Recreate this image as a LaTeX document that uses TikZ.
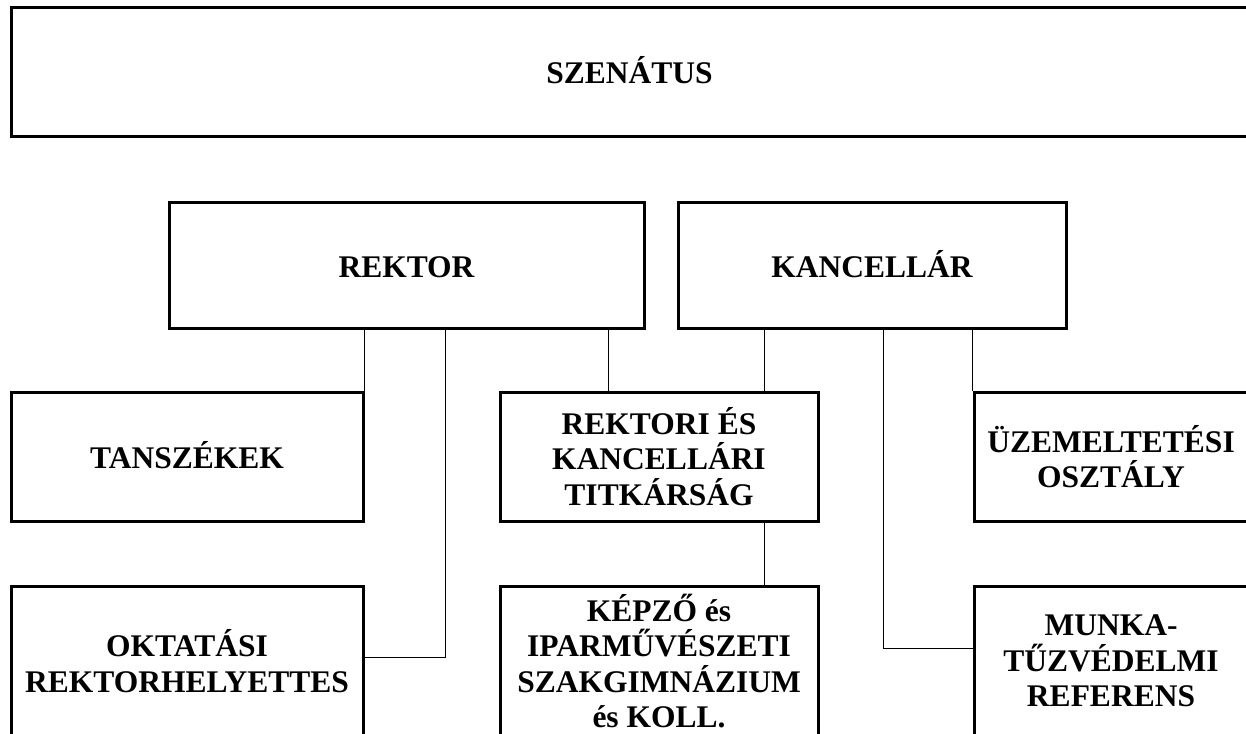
\documentclass[tikz,border=0pt]{standalone}
\usepackage{fontspec}
\setmainfont{Liberation Serif}
\usepackage{tikz}

\tikzset{
  orgbox/.style={draw, line width=3pt, inner sep=0pt, align=center,
    font=\fontsize{31.5}{35.5}\selectfont\bfseries},
  oneline/.style={text height=24pt, text depth=0pt},
  link/.style={line width=1pt}
}

\begin{document}
\begin{tikzpicture}[x=1pt, y=-1pt]
    \useasboundingbox (0,0) rectangle (1246,733);
    \clip (0,0) rectangle (1246,733);
    \begin{scope}
      \node[orgbox, oneline, minimum width=1237pt, minimum height=128pt] (szenatus) at (629.5, 72) {SZENÁTUS};
      \node[orgbox, oneline, minimum width=475pt, minimum height=126pt] (rektor) at (406.5, 265) {REKTOR};
      \node[orgbox, oneline, minimum width=388pt, minimum height=126pt] (kancellar) at (872, 265) {KANCELLÁR};
      \node[orgbox, oneline, minimum width=352pt, minimum height=129pt] (tanszekek) at (187, 456.5) {TANSZÉKEK};
      \node[orgbox, minimum width=318pt, minimum height=129pt] (titkarsag) at (659, 456.5) {REKTORI ÉS\\KANCELLÁRI\\TITKÁRSÁG};
      \node[orgbox, minimum width=274pt, minimum height=129pt] (uzemeltetesi) at (1111, 456.5) {ÜZEMELTETÉSI\\OSZTÁLY};
      \node[orgbox, minimum width=352pt, minimum height=150pt] (oktatasi) at (187, 661) {OKTATÁSI\\REKTORHELYETTES};
      \node[orgbox, minimum width=318pt, minimum height=150pt] (kepzo) at (659, 661) {KÉPZŐ és\\IPARMŰVÉSZETI\\SZAKGIMNÁZIUM\\és KOLL.};
      \node[orgbox, minimum width=274pt, minimum height=150pt] (munka) at (1111, 661) {MUNKA-\\TŰZVÉDELMI\\REFERENS};
    \end{scope}
    \draw[link] (rektor.south -| tanszekek.north east) -- (tanszekek.north east);
    \draw[link] (rektor.south -| 445,0) |- ([yshift=4pt]oktatasi.east);
    \draw[link] (rektor.south -| 608,0) -- (titkarsag.north -| 608,0);
    \draw[link] (kancellar.south -| 764,0) -- (titkarsag.north -| 764,0);
    \draw[link] (titkarsag.south -| 764,0) -- (kepzo.north -| 764,0);
    \draw[link] (kancellar.south -| 883,0) |- ([yshift=13pt]munka.west);
    \draw[link] (kancellar.south -| uzemeltetesi.north west) -- (uzemeltetesi.north west);
  \end{tikzpicture}
\end{document}
